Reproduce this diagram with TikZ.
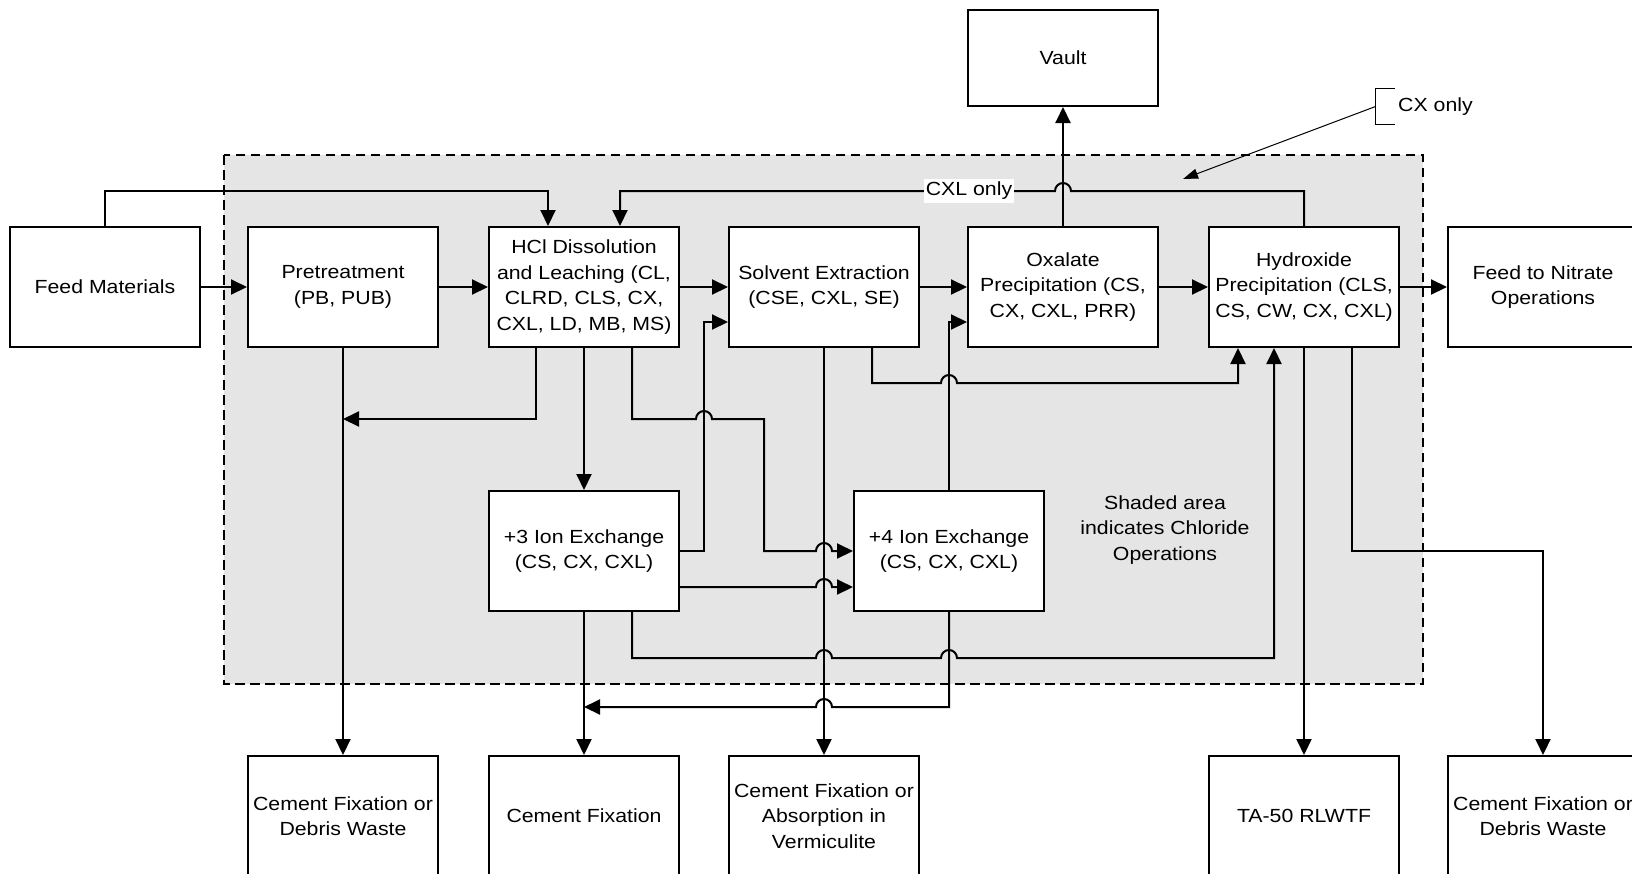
\documentclass[tikz,border=0pt]{standalone}
\usepackage{fontspec}
\setmainfont{Liberation Sans}[FakeStretch=1.12]
\usetikzlibrary{arrows.meta,calc}

\begin{document}
\begin{tikzpicture}[x=1pt,y=-1pt,
  font=\fontsize{19pt}{25.5pt}\selectfont,
  box/.style={draw, line width=2pt, fill=white, minimum width=190pt,
              minimum height=120pt, inner sep=2pt, align=center},
  wire/.style={line width=2pt},
  flow/.style={wire, -{Triangle[length=16pt,width=15pt]}},
  area/.style={fill=black!10, line width=2pt, dash pattern=on 9.5pt off 5.5pt},
  thinflow/.style={line width=1pt, -{Triangle[length=15pt,width=10pt]}}]

\useasboundingbox (0,0) rectangle (1632,873);
\clip (0,0) rectangle (1632,873);

% chloride operations area
\draw[area] (224,155) rectangle (1423,684);

% process boxes
\node[box] (feed) at (105,287)  {Feed Materials};
\node[box] (pre)  at (343,287)  {Pretreatment\\(PB, PUB)};
\node[box] (hcl)  at (584,287)  {HCl Dissolution\\and Leaching (CL,\\CLRD, CLS, CX,\\CXL, LD, MB, MS)};
\node[box] (sx)   at (824,287)  {Solvent Extraction\\(CSE, CXL, SE)};
\node[box] (ox)   at (1063,287) {Oxalate\\Precipitation (CS,\\CX, CXL, PRR)};
\node[box] (hyd)  at (1304,287) {Hydroxide\\Precipitation (CLS,\\CS, CW, CX, CXL)};
\node[box] (nit)  at (1543,287) {Feed to Nitrate\\Operations};
\node[box, minimum height=96pt] (vault) at (1063,58) {Vault};
\node[box] (ix3)  at (584,551)  {+3 Ion Exchange\\(CS, CX, CXL)};
\node[box] (ix4)  at (949,551)  {+4 Ion Exchange\\(CS, CX, CXL)};

% waste / product destinations
\node[box] (w1) at (343,816)  {Cement Fixation or\\Debris Waste};
\node[box] (w2) at (584,816)  {Cement Fixation};
\node[box] (w3) at (824,816)  {Cement Fixation or\\Absorption in\\Vermiculite};
\node[box] (w4) at (1304,816) {TA-50 RLWTF};
\node[box] (w5) at (1543,816) {Cement Fixation or\\Debris Waste};

\node[align=center] (note) at (1165,530) {Shaded area\\indicates Chloride\\Operations};

% main line
\draw[flow] (feed.east) -- (pre.west);
\draw[flow] (pre.east) -- (hcl.west);
\draw[flow] (hcl.east) -- (sx.west);
\draw[flow] (sx.east) -- (ox.west);
\draw[flow] (ox.east) -- (hyd.west);
\draw[flow] (hyd.east) -- (nit.west);
\draw[flow] (ox.north) -- (vault.south);

% bypass of pretreatment
\draw[flow] (feed.north) -- (105,191) -| ([xshift=-36pt]hcl.north);

% CXL recycle
\draw[flow] (hyd.north) -- (1304,191) -- (1071,191)
  arc[start angle=0, end angle=-180, radius=8]
  -- (969,191) node[fill=white, inner xsep=2pt, inner ysep=3pt] (cxl) {CXL only}
  -- (620,191) -- ([xshift=36pt]hcl.north);

% dissolution outputs
\draw[flow] ([xshift=-48pt]hcl.south) |- (pre.south |- 0,419);
\draw[flow] (pre.south) -- (w1.north);
\draw[flow] (hcl.south) -- (ix3.north);
\draw[flow] ([xshift=48pt]hcl.south) -- (632,419) -- (696,419)
  arc[start angle=180, end angle=360, radius=8]
  -- (764,419) -- (764,551) -- (816,551)
  arc[start angle=180, end angle=360, radius=8]
  -- (ix4.west);

% +3 ion exchange outputs
\draw[flow] (ix3.east) -| (704,322) -- ([yshift=-35pt]sx.west);
\draw[flow] ([yshift=-36pt]ix3.east) -- (816,587)
  arc[start angle=180, end angle=360, radius=8]
  -- ([yshift=-36pt]ix4.west);
\draw[flow] ([xshift=48pt]ix3.south) -- (632,658) -- (816,658)
  arc[start angle=180, end angle=360, radius=8]
  -- (941,658)
  arc[start angle=180, end angle=360, radius=8]
  -- (1274,658) -- ([xshift=-30pt]hyd.south);
\draw[flow] (ix3.south) -- (w2.north);

% +4 ion exchange outputs
\draw[flow] (ix4.north) |- ([yshift=-35pt]ox.west);
\draw[flow] (ix4.south) -- (949,707) -- (832,707)
  arc[start angle=0, end angle=-180, radius=8]
  -- (ix3.south |- 0,707);

% solvent extraction outputs
\draw[flow] (sx.south) -- (w3.north);
\draw[flow] ([xshift=48pt]sx.south) -- (872,383) -- (941,383)
  arc[start angle=180, end angle=360, radius=8]
  -- (1238,383) -- ([xshift=-66pt]hyd.south);

% hydroxide precipitation outputs
\draw[flow] (hyd.south) -- (w4.north);
\draw[flow] ([xshift=48pt]hyd.south) |- (w5.north |- 0,551) -- (w5.north);

% CX only callout
\node[anchor=west, inner sep=0pt] (cxo) at (1398,106.5) {CX only};
\draw[line width=1pt] (1395,88.5) -- (1375.5,88.5) -- (1375.5,124.5) -- (1395,124.5);
\coordinate (cxb) at (1375.5,106.5);
\coordinate (cxt) at (1183,179);
\draw[thinflow] (cxb) -- (cxt);

\end{tikzpicture}
\end{document}
